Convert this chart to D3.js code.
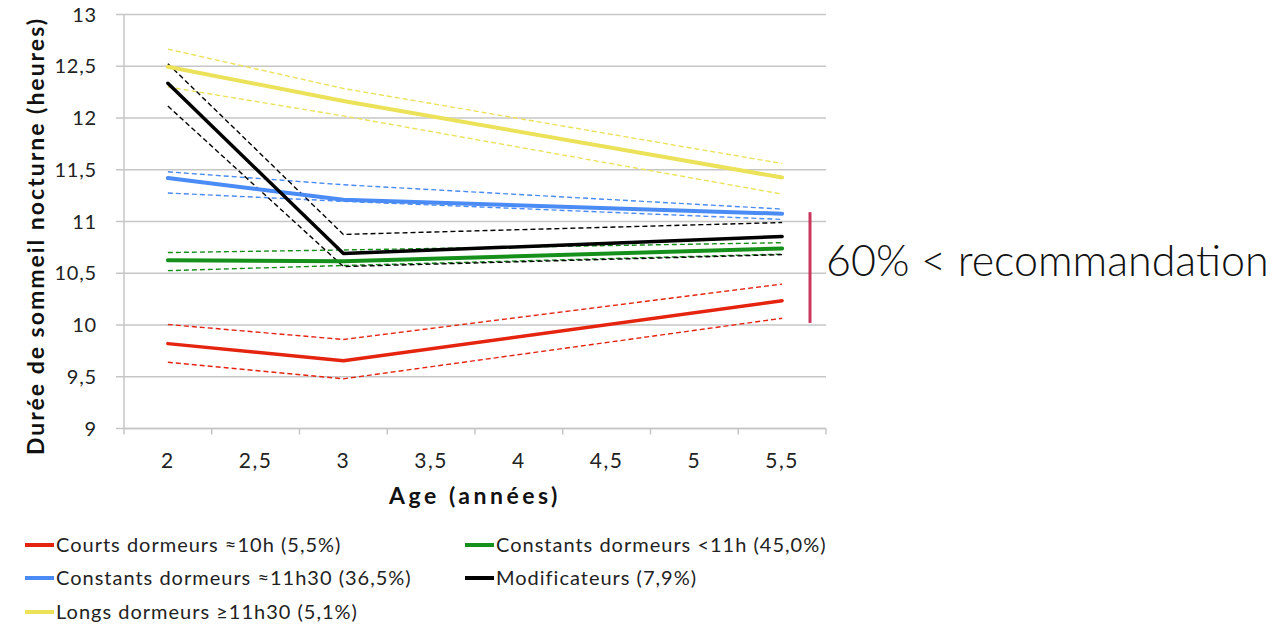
<!DOCTYPE html>
<html>
<head>
<meta charset="utf-8">
<script src="https://cdn.jsdelivr.net/npm/d3@7"></script>
<style>
  html, body { margin: 0; padding: 0; background: #fff; overflow: hidden; }
  svg { display: block; font-family: Lato, "Open Sans", sans-serif; }
</style>
</head>
<body>
<svg id="chart" width="1276" height="628"></svg>
<script>
// Age categories on the x axis
const ageLabels = ["2", "2,5", "3", "3,5", "4", "4,5", "5", "5,5"];
// Measurement ages (index into ageLabels)
const measureAges = ["2", "3", "5,5"];
const yTicks = [9, 9.5, 10, 10.5, 11, 11.5, 12, 12.5, 13];

// Mean nocturnal sleep duration (hours) per trajectory, with confidence bounds
const courtsMean  = [9.82, 9.655, 10.235];
const courtsHigh  = [10.005, 9.86, 10.395];
const courtsLow   = [9.64, 9.48, 10.065];

const constLowMean = [10.625, 10.615, 10.74];
const constLowHigh = [10.70, 10.725, 10.795];
const constLowLow  = [10.525, 10.575, 10.685];

const constHighMean = [11.42, 11.21, 11.075];
const constHighHigh = [11.48, 11.355, 11.12];
const constHighLow  = [11.275, 11.195, 11.02];

const modifMean = [12.335, 10.69, 10.855];
const modifHigh = [12.525, 10.875, 10.99];
const modifLow  = [12.115, 10.565, 10.68];

const longsMean = [12.495, 12.165, 11.425];
const longsHigh = [12.665, 12.285, 11.56];
const longsLow  = [12.30, 12.02, 11.265];

const seriesNames = [
  "Courts dormeurs ≈10h (5,5%)",
  "Constants dormeurs <11h (45,0%)",
  "Constants dormeurs ≈11h30 (36,5%)",
  "Modificateurs (7,9%)",
  "Longs dormeurs ≥11h30 (5,1%)"
];
const seriesColors = ["#e52410", "#15901a", "#4a8bf5", "#000000", "#ece25a"];

const series = [
  { name: seriesNames[0], color: seriesColors[0], mean: courtsMean, hi: courtsHigh, lo: courtsLow, w: 3.5 },
  { name: seriesNames[1], color: seriesColors[1], mean: constLowMean, hi: constLowHigh, lo: constLowLow, w: 4 },
  { name: seriesNames[2], color: seriesColors[2], mean: constHighMean, hi: constHighHigh, lo: constHighLow, w: 4 },
  { name: seriesNames[3], color: seriesColors[3], mean: modifMean, hi: modifHigh, lo: modifLow, w: 3.5 },
  { name: seriesNames[4], color: seriesColors[4], mean: longsMean, hi: longsHigh, lo: longsLow, w: 4 }
];

const annotationText = "60% < recommandation";
const annotationRange = [10.02, 11.09];

const svg = d3.select("#chart");
const plot = { left: 124, right: 826, top: 14.5, bottom: 428.5 };

const x = d3.scaleBand().domain(ageLabels).range([plot.left, plot.right]).padding(0);
const y = d3.scaleLinear().domain([9, 13]).range([plot.bottom, plot.top]);
const xc = a => x(a) + x.bandwidth() / 2;

// Horizontal gridlines
svg.append("g")
  .selectAll("line")
  .data(yTicks)
  .join("line")
  .attr("x1", plot.left - 8).attr("x2", plot.right)
  .attr("y1", d => y(d)).attr("y2", d => y(d))
  .attr("stroke", "#c6c6c6").attr("stroke-width", 1.5);

// Y axis line
svg.append("line")
  .attr("x1", plot.left).attr("x2", plot.left)
  .attr("y1", plot.top).attr("y2", plot.bottom)
  .attr("stroke", "#c6c6c6").attr("stroke-width", 1.5);

// X axis with tick marks on band edges
const xAxis = svg.append("g").attr("transform", `translate(0,${plot.bottom})`);
xAxis.append("line")
  .attr("x1", plot.left).attr("x2", plot.right)
  .attr("stroke", "#c6c6c6").attr("stroke-width", 1.5);
const edges = ageLabels.map(a => x(a)).concat([plot.right]);
xAxis.selectAll("line.tick")
  .data(edges)
  .join("line").attr("class", "tick")
  .attr("x1", d => d).attr("x2", d => d)
  .attr("y1", 0).attr("y2", 6)
  .attr("stroke", "#c6c6c6").attr("stroke-width", 1.5);
xAxis.selectAll("text")
  .data(ageLabels)
  .join("text")
  .attr("x", d => xc(d)).attr("y", 39)
  .attr("text-anchor", "middle")
  .attr("font-size", 21).attr("letter-spacing", 1.5).attr("fill", "#222")
  .text(d => d);

// Y tick labels
svg.append("g")
  .selectAll("text")
  .data(yTicks)
  .join("text")
  .attr("x", 97).attr("y", d => y(d))
  .attr("dy", "0.35em")
  .attr("text-anchor", "end")
  .attr("font-size", 20).attr("letter-spacing", 0.8).attr("fill", "#222")
  .text(d => String(d).replace(".", ","));

// Axis titles
svg.append("text")
  .attr("transform", `translate(44,236) rotate(-90)`)
  .attr("text-anchor", "middle")
  .attr("font-size", 23).attr("letter-spacing", 2).attr("font-weight", "bold").attr("fill", "#111")
  .text("Durée de sommeil nocturne (heures)");
svg.append("text")
  .attr("x", 475).attr("y", 504)
  .attr("text-anchor", "middle")
  .attr("font-size", 23).attr("letter-spacing", 3.5).attr("font-weight", "bold").attr("fill", "#111")
  .text("Age (années)");

// Trajectory lines
const line = d3.line().x((d, i) => xc(measureAges[i])).y(d => y(d));
const lines = svg.append("g").attr("fill", "none");
// draw in z-order: yellow, blue, green, red, black
[4, 2, 1, 0, 3].forEach(k => {
  const s = series[k];
  [s.hi, s.lo].forEach(b => {
    lines.append("path").attr("d", line(b))
      .attr("stroke", s.color).attr("stroke-width", 1.4)
      .attr("stroke-dasharray", "5,3");
  });
});
[4, 2, 1, 0, 3].forEach(k => {
  const s = series[k];
  lines.append("path").attr("d", line(s.mean))
    .attr("stroke", s.color).attr("stroke-width", s.w)
    .attr("stroke-linejoin", "round").attr("stroke-linecap", "round");
});

// Recommendation bracket
svg.append("line")
  .attr("x1", 810).attr("x2", 810)
  .attr("y1", y(annotationRange[1])).attr("y2", y(annotationRange[0]))
  .attr("stroke", "#c8365e").attr("stroke-width", 3);
svg.append("text")
  .attr("x", 826).attr("y", 276)
  .attr("font-size", 43).attr("font-weight", 300).attr("fill", "#111")
  .text(annotationText);

// Legend
const legendPos = [[25, 545], [465, 545], [25, 578], [465, 578], [25, 612]];
const legend = svg.append("g");
series.forEach((s, i) => {
  const [lx, ly] = legendPos[i];
  legend.append("line")
    .attr("x1", lx).attr("x2", lx + 29)
    .attr("y1", ly).attr("y2", ly)
    .attr("stroke", s.color).attr("stroke-width", 4);
  legend.append("text")
    .attr("x", lx + 31).attr("y", ly).attr("dy", "0.35em")
    .attr("font-size", 20).attr("letter-spacing", 1).attr("fill", "#222")
    .text(s.name);
});
</script>
</body>
</html>
